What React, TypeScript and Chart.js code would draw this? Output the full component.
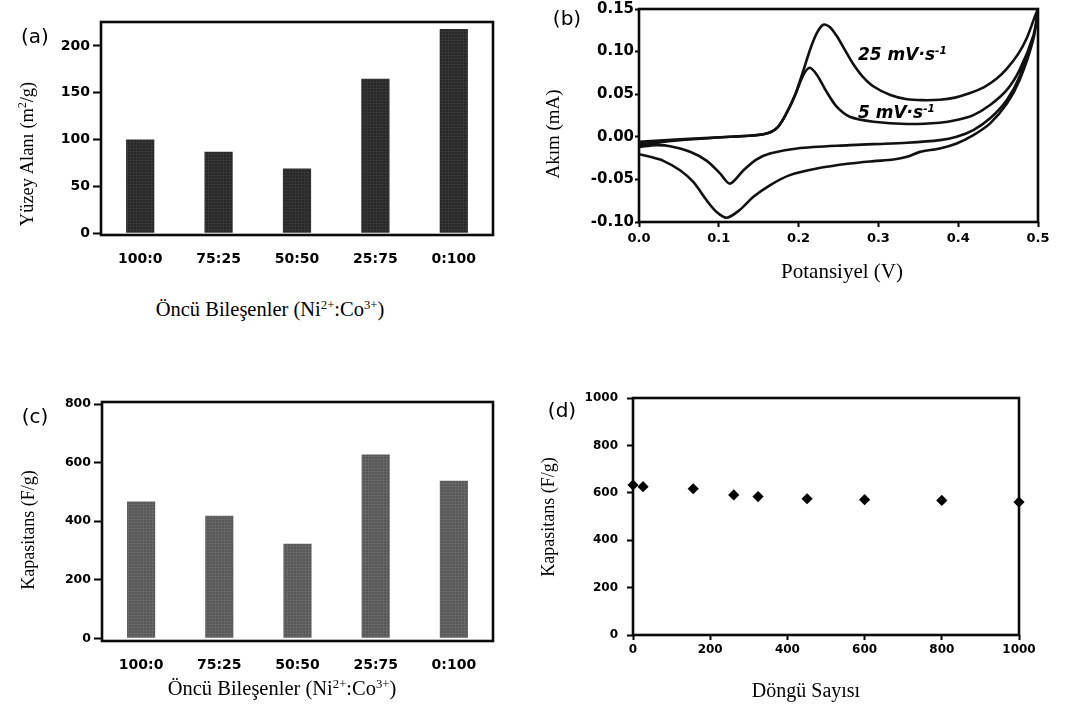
import React, { useEffect, useRef } from 'react';
import { Chart, registerables } from 'chart.js';

Chart.register(...registerables);

// ---- data ----
const ratioLabels = ['100:0', '75:25', '50:50', '25:75', '0:100'];
const surfaceArea = [100, 87, 69, 165, 218];
const specificCapacitance = [467, 419, 323, 628, 538];

// cyclic voltammetry, 25 mV/s: anodic sweep then cathodic sweep
const cv25AnodicV = [0, 0.051, 0.114, 0.156, 0.1725, 0.185, 0.196, 0.206, 0.215, 0.223, 0.231, 0.239, 0.248, 0.258, 0.268, 0.28, 0.294, 0.315, 0.336, 0.356, 0.377, 0.396, 0.414, 0.432, 0.448, 0.461, 0.475, 0.486, 0.5];
const cv25AnodicI = [-0.006, -0.003, 0.0, 0.003, 0.01, 0.028, 0.05, 0.078, 0.104, 0.122, 0.1315, 0.129, 0.118, 0.102, 0.086, 0.071, 0.059, 0.049, 0.044, 0.043, 0.0435, 0.046, 0.051, 0.058, 0.068, 0.08, 0.097, 0.116, 0.15];
const cv25CathodicV = [0.494, 0.477, 0.461, 0.44, 0.419, 0.398, 0.377, 0.352, 0.336, 0.319, 0.294, 0.264, 0.223, 0.189, 0.164, 0.143, 0.1266, 0.11, 0.0973, 0.0848, 0.068, 0.0514, 0.0305, 0.0138, 0];
const cv25CathodicI = [0.114, 0.0668, 0.039, 0.0158, 0.002, -0.0078, -0.0137, -0.0177, -0.0235, -0.0267, -0.0286, -0.0314, -0.0372, -0.045, -0.0569, -0.0707, -0.0856, -0.095, -0.0883, -0.0746, -0.053, -0.0392, -0.0282, -0.0235, -0.0204];

// cyclic voltammetry, 5 mV/s
const cv5AnodicV = [0, 0.051, 0.114, 0.156, 0.1725, 0.185, 0.196, 0.206, 0.214, 0.223, 0.235, 0.248, 0.264, 0.294, 0.336, 0.377, 0.398, 0.419, 0.44, 0.461, 0.477, 0.494, 0.5];
const cv5AnodicI = [-0.009, -0.004, 0.0, 0.003, 0.01, 0.028, 0.05, 0.0726, 0.081, 0.0726, 0.053, 0.035, 0.0236, 0.0177, 0.015, 0.0165, 0.0197, 0.0255, 0.0373, 0.055, 0.0785, 0.118, 0.147];
const cv5CathodicV = [0.494, 0.477, 0.461, 0.44, 0.419, 0.398, 0.377, 0.336, 0.294, 0.264, 0.198, 0.164, 0.147, 0.131, 0.114, 0.1015, 0.085, 0.064, 0.039, 0.022, 0];
const cv5CathodicI = [0.118, 0.0707, 0.0432, 0.0217, 0.0079, 0.0, -0.0039, -0.007, -0.0086, -0.0098, -0.0137, -0.0196, -0.0267, -0.0392, -0.055, -0.043, -0.0282, -0.0176, -0.011, -0.0098, -0.0118];

// cycling stability
const cycleNumbers = [0, 26, 156, 261, 324, 451, 600, 800, 1000];
const cycleCapacitance = [633, 626, 617, 591, 584, 575, 571, 568, 561];

// axis ticks
const areaTicks = [0, 50, 100, 150, 200];
const capTicks = [0, 200, 400, 600, 800];
const currentTicks = [-0.1, -0.05, 0, 0.05, 0.1, 0.15];
const potentialTicks = [0, 0.1, 0.2, 0.3, 0.4, 0.5];
const cycleTicks = [0, 200, 400, 600, 800, 1000];
const cycleCapTicks = [0, 200, 400, 600, 800, 1000];

// ---- layout of the four plot areas ----
type Area = { l: number; t: number; r: number; b: number };
const areaA: Area = { l: 101, t: 22, r: 493, b: 235 };
const areaB: Area = { l: 639, t: 9, r: 1038, b: 222 };
const areaC: Area = { l: 102, t: 402, r: 493, b: 641 };
const areaD: Area = { l: 633, t: 398, r: 1019, b: 635 };

const Y_W = 100;
const X_H = 48;
const PAD_R = 26;

function padTop(a: Area) {
  return Math.min(15, a.t);
}

function canvasBox(a: Area) {
  const pt = padTop(a);
  return {
    left: a.l - Y_W,
    top: a.t - pt,
    width: a.r - a.l + Y_W + PAD_R,
    height: a.b - a.t + pt + X_H,
  };
}

const tickFamily = "'DejaVu Sans', Verdana, sans-serif";
const tickFont = (size: number) => ({ family: tickFamily, size, weight: 'bold' as const });
const serif = "'Liberation Serif', 'Times New Roman', serif";
const sans = "'DejaVu Sans', Verdana, sans-serif";

const toPoints = (xs: number[], ys: number[]) => xs.map((x, i) => ({ x, y: ys[i] }));

const framePlugin = {
  id: 'frame',
  beforeDatasetsDraw(chart: any) {
    const { ctx, chartArea } = chart;
    const { left, top, right, bottom } = chartArea;
    ctx.save();
    ctx.strokeStyle = '#0a0a0a';
    ctx.lineWidth = 2.6;
    ctx.strokeRect(left, top, right - left, bottom - top);
    ctx.restore();
  },
};

function fixedX(h: number) {
  return (s: any) => {
    s.height = h;
    s.paddingLeft = 0;
    s.paddingRight = 0;
  };
}
function fixedY(w: number) {
  return (s: any) => {
    s.width = w;
    s.paddingTop = 0;
    s.paddingBottom = 0;
  };
}
function setTicks(values: number[]) {
  return (s: any) => {
    s.ticks = values.map((value) => ({ value }));
  };
}

function baseOptions(a: Area) {
  return {
    animation: false as const,
    responsive: false,
    maintainAspectRatio: false,
    devicePixelRatio: 1,
    events: [] as any[],
    layout: { padding: { left: 0, top: padTop(a), right: PAD_R, bottom: 0 } },
    plugins: { legend: { display: false }, tooltip: { enabled: false }, title: { display: false } },
  };
}

function yAxis(min: number, max: number, ticks: number[], tickLength: number, padding: number, fmt: (v: number) => string, size: number) {
  return {
    type: 'linear' as const,
    min,
    max,
    afterBuildTicks: setTicks(ticks),
    afterFit: fixedY(Y_W),
    border: { display: false },
    grid: { drawOnChartArea: false, drawTicks: true, tickLength, tickColor: '#000', tickWidth: 2, color: '#000' },
    ticks: { color: '#000', font: tickFont(size), padding, callback: (v: any) => fmt(Number(v)) },
  };
}

function makeHatch(base: string, line: string) {
  const c = document.createElement('canvas');
  c.width = 3;
  c.height = 3;
  const g = c.getContext('2d')!;
  g.fillStyle = base;
  g.fillRect(0, 0, 3, 3);
  g.fillStyle = line;
  g.fillRect(0, 0, 3, 1);
  g.fillRect(0, 0, 1, 3);
  return g.createPattern(c, 'repeat')!;
}

function barConfig(a: Area, values: number[], fill: any, yMin: number, yMax: number, ticks: number[], ySize: number): any {
  return {
    type: 'bar',
    data: {
      labels: ratioLabels,
      datasets: [{ data: values, backgroundColor: fill, borderWidth: 0, barPercentage: 0.36, categoryPercentage: 1 }],
    },
    options: {
      ...baseOptions(a),
      scales: {
        x: {
          afterFit: fixedX(X_H),
          border: { display: false },
          grid: { display: false },
          ticks: { color: '#000', font: tickFont(14), padding: 8, maxRotation: 0, autoSkip: false },
        },
        y: yAxis(yMin, yMax, ticks, 8, 3, (v) => String(v), ySize),
      },
    },
    plugins: [framePlugin],
  };
}

function cvConfig(a: Area): any {
  const line = { showLine: true, borderColor: '#111', borderWidth: 2.6, pointRadius: 0, tension: 0.3, fill: false };
  return {
    type: 'scatter',
    data: {
      datasets: [
        { ...line, label: '25 mV/s', data: [...toPoints(cv25AnodicV, cv25AnodicI), ...toPoints(cv25CathodicV, cv25CathodicI)] },
        { ...line, label: '5 mV/s', data: [...toPoints(cv5AnodicV, cv5AnodicI), ...toPoints(cv5CathodicV, cv5CathodicI)] },
      ],
    },
    options: {
      ...baseOptions(a),
      scales: {
        x: {
          type: 'linear',
          min: 0,
          max: 0.5,
          afterBuildTicks: setTicks(potentialTicks),
          afterFit: fixedX(X_H),
          border: { display: false },
          grid: { drawOnChartArea: false, drawTicks: true, tickLength: 5, tickColor: '#000', tickWidth: 2, color: '#000' },
          ticks: { color: '#000', font: tickFont(13), padding: 4, maxRotation: 0, callback: (v: any) => Number(v).toFixed(1) },
        },
        y: yAxis(-0.1, 0.15, currentTicks, 4, 1, (v) => v.toFixed(2), 15),
      },
    },
    plugins: [framePlugin],
  };
}

function cycleConfig(a: Area): any {
  return {
    type: 'scatter',
    data: {
      datasets: [
        {
          label: 'Kapasitans',
          data: toPoints(cycleNumbers, cycleCapacitance),
          pointStyle: 'rectRot',
          pointRadius: 5.6,
          backgroundColor: '#000',
          borderColor: '#000',
          borderWidth: 0,
          clip: false,
        },
      ],
    },
    options: {
      ...baseOptions(a),
      scales: {
        x: {
          type: 'linear',
          min: 0,
          max: 1000,
          afterBuildTicks: setTicks(cycleTicks),
          afterFit: fixedX(X_H),
          border: { display: false },
          grid: { drawOnChartArea: false, drawTicks: true, tickLength: 5, tickColor: '#000', tickWidth: 2, color: '#000' },
          ticks: { color: '#000', font: tickFont(12), padding: 3, maxRotation: 0, callback: (v: any) => String(v) },
        },
        y: yAxis(0, 1000, cycleCapTicks, 6, 9, (v) => String(v), 12),
      },
    },
    plugins: [framePlugin],
  };
}

type TextProps = {
  x: number;
  y: number;
  rotate?: boolean;
  anchor?: 'center' | 'left';
  font: string;
  size: number;
  weight?: string;
  italic?: boolean;
  children: React.ReactNode;
};

function Text({ x, y, rotate, anchor = 'center', font, size, weight, italic, children }: TextProps) {
  const shift = anchor === 'left' ? 'translate(0,-50%)' : 'translate(-50%,-50%)';
  return (
    <div
      style={{
        position: 'absolute',
        left: x,
        top: y,
        transform: shift + (rotate ? ' rotate(-90deg)' : ''),
        whiteSpace: 'nowrap',
        lineHeight: 1.15,
        fontFamily: font,
        fontSize: size,
        fontWeight: (weight as any) || 'normal',
        fontStyle: italic ? 'italic' : 'normal',
        color: '#000',
      }}
    >
      {children}
    </div>
  );
}

const Sup = ({ children }: { children: React.ReactNode }) => (
  <sup style={{ fontSize: '62%', lineHeight: 0, verticalAlign: '0.6em' }}>{children}</sup>
);

export default function App() {
  const refA = useRef<HTMLCanvasElement>(null);
  const refB = useRef<HTMLCanvasElement>(null);
  const refC = useRef<HTMLCanvasElement>(null);
  const refD = useRef<HTMLCanvasElement>(null);

  useEffect(() => {
    const darkHatch = makeHatch('#272727', '#363636');
    const greyHatch = makeHatch('#575757', '#676767');
    const charts = [
      new Chart(refA.current!, barConfig(areaA, surfaceArea, darkHatch, -2, 225.5, areaTicks, 14)),
      new Chart(refB.current!, cvConfig(areaB)),
      new Chart(refC.current!, barConfig(areaC, specificCapacitance, greyHatch, -9, 807, capTicks, 12.5)),
      new Chart(refD.current!, cycleConfig(areaD)),
    ];
    return () => charts.forEach((c) => c.destroy());
  }, []);

  const canvasFor = (ref: React.RefObject<HTMLCanvasElement>, a: Area) => {
    const box = canvasBox(a);
    return (
      <canvas
        ref={ref}
        width={box.width}
        height={box.height}
        style={{ position: 'absolute', left: box.left, top: box.top, width: box.width, height: box.height }}
      />
    );
  };

  return (
    <div style={{ position: 'absolute', left: 0, top: 0, width: 1065, height: 707, background: '#fff', overflow: 'hidden' }}>
      {canvasFor(refA, areaA)}
      {canvasFor(refB, areaB)}
      {canvasFor(refC, areaC)}
      {canvasFor(refD, areaD)}

      {/* (a) surface area */}
      <Text x={35} y={36} font={sans} size={20}>(a)</Text>
      <Text x={28} y={154} rotate font={serif} size={18.5}>
        Yüzey Alanı (m<Sup>2</Sup>/g)
      </Text>
      <Text x={270} y={310} font={serif} size={20.5}>
        Öncü Bileşenler (Ni<Sup>2+</Sup>:Co<Sup>3+</Sup>)
      </Text>

      {/* (b) cyclic voltammetry */}
      <Text x={567} y={18} font={sans} size={20}>(b)</Text>
      <Text x={553} y={134} rotate font={serif} size={19}>Akım (mA)</Text>
      <Text x={842} y={271} font={serif} size={21}>Potansiyel (V)</Text>
      <Text x={858} y={55} anchor="left" font={sans} size={17} weight="bold" italic>
        25 mV·s<Sup>-1</Sup>
      </Text>
      <Text x={858} y={113} anchor="left" font={sans} size={17} weight="bold" italic>
        5 mV·s<Sup>-1</Sup>
      </Text>

      {/* (c) specific capacitance */}
      <Text x={35} y={416} font={sans} size={20}>(c)</Text>
      <Text x={28} y={530} rotate font={serif} size={18}>Kapasitans (F/g)</Text>
      <Text x={282} y={689} font={serif} size={20.5}>
        Öncü Bileşenler (Ni<Sup>2+</Sup>:Co<Sup>3+</Sup>)
      </Text>

      {/* (d) cycling stability */}
      <Text x={562} y={410} font={sans} size={20}>(d)</Text>
      <Text x={548} y={517} rotate font={serif} size={18}>Kapasitans (F/g)</Text>
      <Text x={806} y={690} font={serif} size={20}>Döngü Sayısı</Text>
    </div>
  );
}
